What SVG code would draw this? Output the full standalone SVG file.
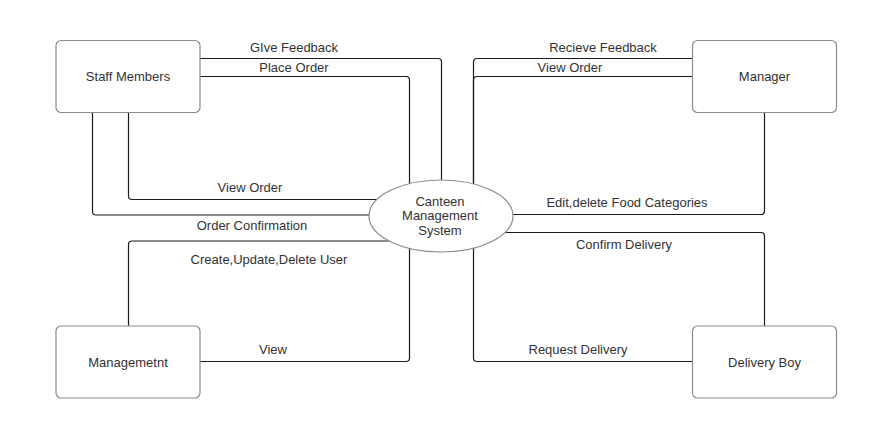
<svg xmlns="http://www.w3.org/2000/svg" width="885" height="427" viewBox="0 0 885 427">
<style>
.bg{fill:#ffffff}
.conn{fill:none;stroke:#1a1a1a;stroke-width:1.2}
.box{fill:#ffffff;stroke:#8c8c8c;stroke-width:1.2}
.t{font-family:"Liberation Sans",Arial,sans-serif;font-size:13px;fill:#333333;text-anchor:middle;dominant-baseline:central}
</style>
<rect class="bg" x="0" y="0" width="885" height="427"/>
<g id="connectors">
  <path class="conn" d="M200 58.5 H438 Q441.5 58.5 441.5 62 V181"/>
  <path class="conn" d="M200 76.5 H406 Q409.5 76.5 409.5 80 V185"/>
  <path class="conn" d="M128.5 112 V196 Q128.5 199.5 132 199.5 H378"/>
  <path class="conn" d="M92.5 112 V211.5 Q92.5 215 96 215 H370"/>
  <path class="conn" d="M128.5 326 V244.5 Q128.5 241 132 241 H390"/>
  <path class="conn" d="M200 361.5 H406 Q409.5 361.5 409.5 358 V247"/>
  <path class="conn" d="M692 58.5 H477 Q473.5 58.5 473.5 62 V185"/>
  <path class="conn" d="M692 76.5 H477 Q473.5 76.5 473.5 80 V185"/>
  <path class="conn" d="M764.5 112 V211 Q764.5 214.5 761 214.5 H512"/>
  <path class="conn" d="M764.5 326 V236 Q764.5 232.5 761 232.5 H504"/>
  <path class="conn" d="M692 361.5 H477 Q473.5 361.5 473.5 358 V247"/>
  <text class="t" x="294" y="47">GIve Feedback</text>
  <text class="t" x="294" y="67">Place Order</text>
  <text class="t" x="250" y="187">View Order</text>
  <text class="t" x="252" y="225">Order Confirmation</text>
  <text class="t" x="269" y="259">Create,Update,Delete User</text>
  <text class="t" x="273" y="349">View</text>
  <text class="t" x="603" y="47">Recieve Feedback</text>
  <text class="t" x="570" y="67">View Order</text>
  <text class="t" x="627" y="202">Edit,delete Food Categories</text>
  <text class="t" x="624" y="244">Confirm Delivery</text>
  <text class="t" x="578" y="349">Request Delivery</text>
</g>
<g id="staff">
  <rect class="box" x="56" y="40.5" width="144" height="72" rx="5"/>
  <text class="t" x="128" y="76.5">Staff Members</text>
</g>
<g id="manager">
  <rect class="box" x="692.5" y="40.5" width="144" height="72" rx="5"/>
  <text class="t" x="764.5" y="76.5">Manager</text>
</g>
<g id="management">
  <rect class="box" x="56" y="326" width="144" height="72" rx="5"/>
  <text class="t" x="128" y="362">Managemetnt</text>
</g>
<g id="delivery">
  <rect class="box" x="692.5" y="326" width="144" height="72" rx="5"/>
  <text class="t" x="764.5" y="362">Delivery Boy</text>
</g>
<g id="system">
  <ellipse class="box" cx="441" cy="216" rx="72" ry="36"/>
  <text class="t" x="440" y="201">Canteen</text>
  <text class="t" x="440" y="215.5">Management</text>
  <text class="t" x="440" y="230">System</text>
</g>
</svg>
